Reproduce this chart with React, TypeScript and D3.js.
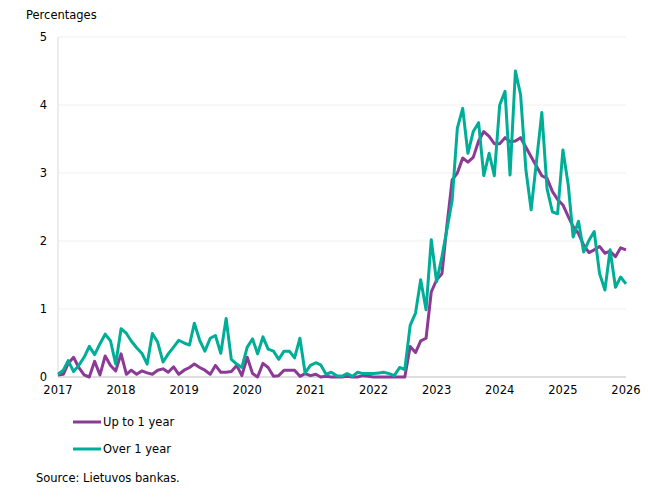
import {useEffect, useRef} from 'react';
import * as d3 from 'd3';

// monthly observations, Jan 2017 .. Jan 2026
const upToOneYear = [
    0.03, 0.04, 0.2, 0.29, 0.14, 0.03, 0.0, 0.23, 0.03, 0.31, 0.17, 0.09,
    0.34, 0.04, 0.1, 0.04, 0.09, 0.06, 0.04, 0.1, 0.12, 0.07, 0.15, 0.04,
    0.1, 0.14, 0.19, 0.14, 0.1, 0.04, 0.17, 0.07, 0.07, 0.08, 0.17, 0.02,
    0.29, 0.05, 0.0, 0.2, 0.14, 0.01, 0.02, 0.1, 0.1, 0.1, 0.01, 0.05,
    0.02, 0.04, 0.0, 0.01, 0.0, 0.0, 0.0, 0.01, 0.0, 0.0, 0.02, 0.01,
    0.0, 0.0, 0.0, 0.0, 0.0, 0.0, 0.0, 0.45, 0.36, 0.53, 0.57, 1.25,
    1.43, 1.52, 2.21, 2.9, 3.0, 3.22, 3.16, 3.23, 3.47, 3.61, 3.54, 3.43,
    3.43, 3.52, 3.46, 3.47, 3.52, 3.38, 3.24, 3.1, 2.96, 2.92, 2.73, 2.61,
    2.53, 2.36, 2.21, 2.11, 1.94, 1.83, 1.87, 1.92, 1.82, 1.85, 1.77, 1.9,
    1.87,
];

const overOneYear = [
    0.04, 0.1, 0.24, 0.08, 0.17, 0.29, 0.45, 0.33, 0.49, 0.63, 0.53, 0.19,
    0.71, 0.64, 0.53, 0.43, 0.35, 0.19, 0.64, 0.51, 0.22, 0.34, 0.44, 0.54,
    0.5, 0.47, 0.79, 0.54, 0.38, 0.57, 0.61, 0.35, 0.86, 0.26, 0.19, 0.14,
    0.44, 0.56, 0.34, 0.59, 0.41, 0.38, 0.26, 0.38, 0.38, 0.28, 0.57, 0.06,
    0.17, 0.21, 0.18, 0.04, 0.07, 0.02, 0.01, 0.05, 0.01, 0.07, 0.05, 0.05,
    0.05, 0.06, 0.07, 0.05, 0.02, 0.14, 0.11, 0.76, 0.94, 1.43, 0.99, 2.02,
    1.4, 1.77, 2.16, 2.6, 3.66, 3.95, 3.29, 3.61, 3.74, 2.96, 3.29, 2.96,
    4.0, 4.2, 2.97, 4.5, 4.15, 3.04, 2.46, 3.17, 3.89, 2.77, 2.43, 2.4,
    3.34, 2.82, 2.06, 2.29, 1.84, 2.01, 2.14, 1.52, 1.28, 1.87, 1.32, 1.47,
    1.37,
];

const yearTicks = [2017, 2018, 2019, 2020, 2021, 2022, 2023, 2024, 2025, 2026];
const valueTicks = [0, 1, 2, 3, 4, 5];

const seriesNames = ['Up to 1 year', 'Over 1 year'];
const seriesColors = ['#8b3a96', '#00ae98'];

const font = 'Verdana, "DejaVu Sans", sans-serif';

const App = () => {
    const chartRef = useRef(null);

    useEffect(() => {
        const width = 650;
        const height = 500;
        const plot = {left: 58, right: 626, top: 37, bottom: 377};

        d3.select(chartRef.current).selectAll('svg').remove();

        const svg = d3.select(chartRef.current)
            .append('svg')
            .attr('width', width)
            .attr('height', height)
            .style('position', 'absolute')
            .style('left', 0)
            .style('top', 0)
            .style('background', '#fff')
            .style('font-family', font);

        const x = d3.scaleTime()
            .domain([new Date(2017, 0, 1), new Date(2026, 0, 1)])
            .range([plot.left, plot.right]);

        const y = d3.scaleLinear()
            .domain([0, 5])
            .range([plot.bottom, plot.top]);

        const dates = upToOneYear.map((_, i) => new Date(2017, i, 1));

        // gridlines
        svg.append('g')
            .selectAll('line')
            .data(valueTicks.filter(v => v > 0))
            .enter().append('line')
            .attr('x1', plot.left)
            .attr('x2', plot.right)
            .attr('y1', d => y(d))
            .attr('y2', d => y(d))
            .attr('stroke', '#f0f0f0')
            .attr('stroke-width', 1);

        // axes lines
        svg.append('line')
            .attr('x1', plot.left).attr('x2', plot.left)
            .attr('y1', plot.top).attr('y2', plot.bottom)
            .attr('stroke', '#d9d9d9');
        svg.append('line')
            .attr('x1', plot.left).attr('x2', plot.right)
            .attr('y1', plot.bottom).attr('y2', plot.bottom)
            .attr('stroke', '#bfbfbf');

        svg.append('g')
            .selectAll('text')
            .data(valueTicks)
            .enter().append('text')
            .attr('x', 47)
            .attr('y', d => y(d))
            .attr('dy', '0.35em')
            .attr('text-anchor', 'end')
            .style('font-size', '11.5px')
            .text(d => d);

        svg.append('g')
            .selectAll('text')
            .data(yearTicks)
            .enter().append('text')
            .attr('x', d => x(new Date(d, 0, 1)))
            .attr('y', plot.bottom + 17)
            .attr('text-anchor', 'middle')
            .style('font-size', '11.5px')
            .text(d => d);

        svg.append('text')
            .attr('x', 26)
            .attr('y', 19)
            .style('font-size', '11.5px')
            .text('Percentages');

        const line = d3.line<number>()
            .x((_, i) => x(dates[i]))
            .y(d => y(d));

        [upToOneYear, overOneYear].forEach((values, k) => {
            svg.append('path')
                .datum(values)
                .attr('d', line)
                .attr('fill', 'none')
                .attr('stroke', seriesColors[k])
                .attr('stroke-width', 3)
                .attr('stroke-linejoin', 'round');
        });

        // legend
        const legend = svg.append('g');
        seriesNames.forEach((name, k) => {
            const ly = 422 + k * 27;
            legend.append('line')
                .attr('x1', 73).attr('x2', 101)
                .attr('y1', ly).attr('y2', ly)
                .attr('stroke', seriesColors[k])
                .attr('stroke-width', 3);
            legend.append('text')
                .attr('x', 103)
                .attr('y', ly)
                .attr('dy', '0.35em')
                .style('font-size', '11.5px')
                .text(name);
        });

        svg.append('text')
            .attr('x', 36)
            .attr('y', 482)
            .style('font-size', '11.5px')
            .text('Source: Lietuvos bankas.');
    }, []);

    return <div ref={chartRef}></div>;
};

export default App;
